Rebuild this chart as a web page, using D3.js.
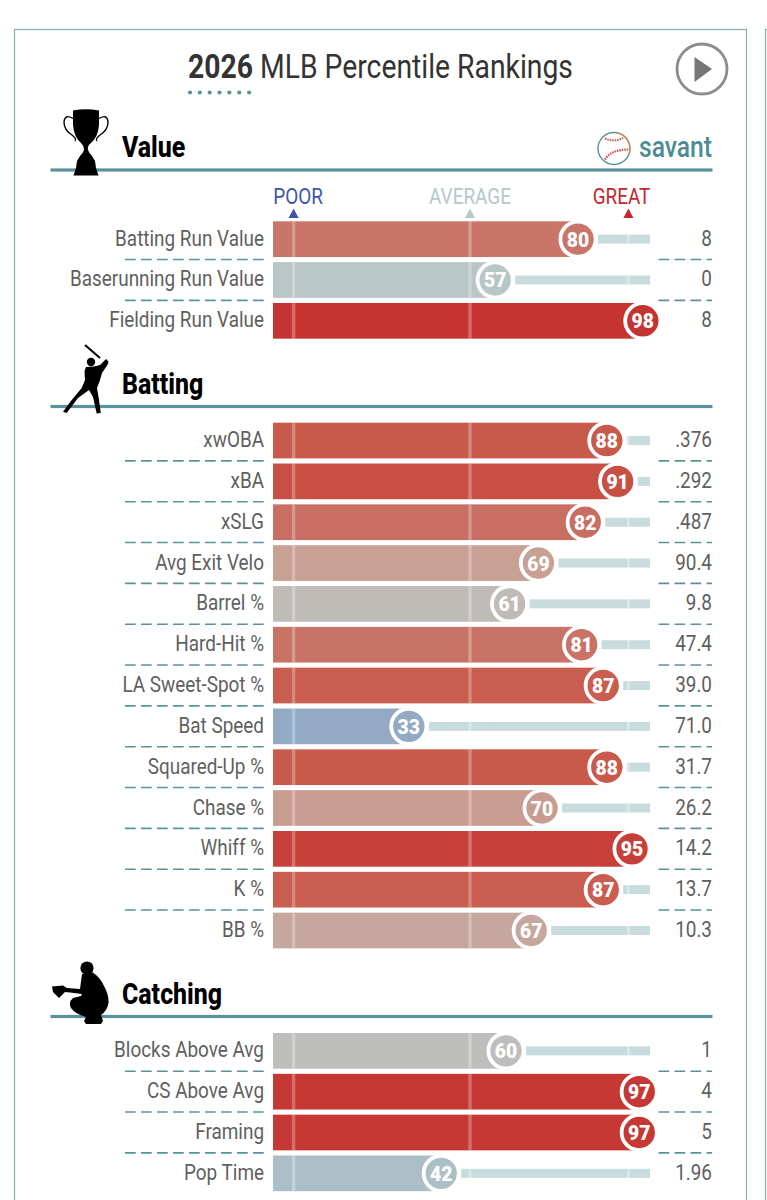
<!DOCTYPE html>
<html>
<head>
<meta charset="utf-8">
<script src="https://cdn.jsdelivr.net/npm/d3@7"></script>
<style>
  body { margin: 0; background: #fff; }
  svg { display: block; }
  text { font-family: Roboto, sans-serif; }
</style>
</head>
<body>
<div id="chart"></div>
<script>
// data
const valueLabels = ["Batting Run Value", "Baserunning Run Value", "Fielding Run Value"]
const valuePct = [80, 57, 98]
const valueStats = ["8", "0", "8"]

const battingLabels = ["xwOBA", "xBA", "xSLG", "Avg Exit Velo", "Barrel %", "Hard-Hit %", "LA Sweet-Spot %", "Bat Speed", "Squared-Up %", "Chase %", "Whiff %", "K %", "BB %"]
const battingPct = [88, 91, 82, 69, 61, 81, 87, 33, 88, 70, 95, 87, 67]
const battingStats = [".376", ".292", ".487", "90.4", "9.8", "47.4", "39.0", "71.0", "31.7", "26.2", "14.2", "13.7", "10.3"]

const catchingLabels = ["Blocks Above Avg", "CS Above Avg", "Framing", "Pop Time"]
const catchingPct = [60, 97, 97, 42]
const catchingStats = ["1", "4", "5", "1.96"]

const scaleNames = ["POOR", "AVERAGE", "GREAT"]
const scalePct = [1, 50, 94]
const scaleColors = ["#3d55a8", "#b5c8ca", "#c4272e"]

// ----------------------------------------------------------
const width = 767
const height = 1200
const teal = "#5a929b"
const barLeft = 273
const labelRight = 264
const statRight = 712
const rowStep = 40.83
const barHeight = 35.7
const trackGap = 20
const narrow = 0.86

const svg = d3.select("div#chart").append("svg").attr("width", width).attr("height", height)

const x = d3.scaleLinear().domain([0, 100]).range([290, 650])
const color = d3.scaleLinear()
    .domain([33, 42, 50, 57, 61, 69, 80, 88, 98])
    .range(["#94a9c4", "#acbfc9", "#b8c6c8", "#b9c6c6", "#bfbcb8", "#c8a094", "#c9756a", "#c85a4c", "#c63431"])

// squeezed Roboto stands in for the condensed face
function squeeze(sel, px, py, k = narrow) {
    return sel.attr("transform", `translate(${px},${py}) scale(${k},1)`)
}

//Panels:
svg.append("rect").attr("x", 14.5).attr("y", 29.5).attr("width", 732).attr("height", 1300)
    .attr("fill", "none").attr("stroke", "#86adb2").attr("stroke-width", 1.2)
svg.append("rect").attr("x", 765.5).attr("y", 29.5).attr("width", 100).attr("height", 1300)
    .attr("fill", "none").attr("stroke", "#86adb2").attr("stroke-width", 1.2)

//Title:
const title = svg.append("text").attr("font-size", 33).attr("fill", "#333")
squeeze(title, 188, 78, 0.858)
title.append("tspan").attr("font-weight", 700).text("2026")
title.append("tspan").text(" MLB Percentile Rankings")

svg.append("g").selectAll("circle").data(d3.range(7)).enter().append("circle")
    .attr("cx", d => 190 + d * 9.85).attr("cy", 92.5).attr("r", 2.1).attr("fill", teal)

//Play button:
const play = svg.append("g")
play.append("circle").attr("cx", 702).attr("cy", 69).attr("r", 25)
    .attr("fill", "#fff").attr("stroke", "#8c8c8c").attr("stroke-width", 2.8)
play.append("path").attr("d", "M694.5 57 L712 69 L694.5 82 Z").attr("fill", "#777")

//Silhouettes:
const trophy = "M73 110.5 Q86 108 99 110.5 L99 125 Q98 137 91 143 Q87 146 88 150 Q89 153 92 156 L95 161 L96 168 L98.5 175.5 L73.5 175.5 L76 168 L77 161 L80 156 Q84 152 84 149 Q84 146 81 143 Q74 137 73 125 Z"
const trophyHandles = "M74 119 Q65 113 64 122 Q64 130 72 135 Q77 139 75 141 M98 119 Q107 113 108 122 Q108 130 100 135 Q95 139 97 141"
const batter = "M86 367 L94 366.5 L100 365 L106 359 L108.5 361.5 L108 364 L102 373 L100 380 L97 388 L99 400 L100.8 413 L96.7 413.5 L93 397 L89 390 L78 398 L66.7 413 L63 411.7 L71.7 400 L81.7 388 L85 380 L84.5 371 Z"
const catcher = "M82 974 L92 972 Q100 977 104 986 Q109 995 108.5 1003 Q107 1011 101 1015 L103 1021 L101 1024 L86 1024 L84 1021 L86 1017 Q75 1014 71 1008 Q68 1002 73 998 L81 996 L82 994 L70 992.5 L65 992 L59 998 L53 992 L52 986.5 L63 985.5 L67 988 L80 989 Z"

function icons() {
    const g = svg.append("g").attr("fill", "#000")
    g.append("path").attr("d", trophy)
    g.append("path").attr("d", trophyHandles).attr("fill", "none").attr("stroke", "#000").attr("stroke-width", 1.4)
    g.append("path").attr("d", batter)
    g.append("circle").attr("cx", 91).attr("cy", 362).attr("r", 4.2)
    g.append("path").attr("d", "M85 345 L100 358").attr("stroke", "#000").attr("stroke-width", 2)
    g.append("path").attr("d", catcher)
    g.append("circle").attr("cx", 87).attr("cy", 968).attr("r", 6.6)
}

//Sections:
function section(name, labels, pct, stats, lineY, barTop) {
    const y = d3.scaleBand().domain(labels)
        .range([barTop - (rowStep - barHeight) / 2, barTop - (rowStep - barHeight) / 2 + rowStep * labels.length])
        .paddingInner((rowStep - barHeight) / rowStep)
        .paddingOuter((rowStep - barHeight) / rowStep / 2)

    svg.append("rect").attr("x", 50.5).attr("y", lineY - 1.6).attr("width", 662).attr("height", 3.2).attr("fill", teal)
    squeeze(svg.append("text").text(name).attr("font-size", 29).attr("font-weight", 800).attr("fill", "#000"), 122, lineY - 13, 0.86)

    const rows = svg.append("g").selectAll("g").data(labels).enter().append("g")
    const mid = d => y(d) + y.bandwidth() / 2
    const val = i => pct[i]

    // dashed separators
    const dashed = labels.slice(0, -1)
    svg.append("g").selectAll("line").data(dashed).enter().append("line")
        .attr("x1", 125).attr("x2", labelRight + 0.5)
        .attr("y1", d => y(d) + y.bandwidth() + 2.5).attr("y2", d => y(d) + y.bandwidth() + 2.5)
        .attr("stroke", teal).attr("stroke-width", 1.6).attr("stroke-dasharray", "10.7 5.3")
    svg.append("g").selectAll("line").data(dashed).enter().append("line")
        .attr("x1", 658.5).attr("x2", statRight)
        .attr("y1", d => y(d) + y.bandwidth() + 2.5).attr("y2", d => y(d) + y.bandwidth() + 2.5)
        .attr("stroke", teal).attr("stroke-width", 1.6).attr("stroke-dasharray", "10.7 5.3")

    // track behind the circle
    rows.append("rect")
        .attr("x", (d, i) => x(val(i)) + trackGap).attr("y", d => mid(d) - 4.5)
        .attr("width", (d, i) => Math.max(0, x(100) - x(val(i)) - trackGap)).attr("height", 9)
        .attr("fill", "#c9dcdd")

    // bar
    rows.append("rect")
        .attr("x", barLeft).attr("y", d => y(d))
        .attr("width", (d, i) => x(val(i)) - barLeft).attr("height", y.bandwidth())
        .attr("fill", (d, i) => color(val(i)))

    // reference ticks
    scalePct.forEach(p => {
        if (p < 90) rows.append("rect")
            .attr("x", x(p) - 1.7).attr("y", d => y(d)).attr("width", 3.4).attr("height", y.bandwidth())
            .attr("fill", "#fff").attr("opacity", 0.28)
            .attr("display", (d, i) => p < val(i) ? null : "none")
        rows.append("rect")
            .attr("x", x(p) - 1.3).attr("y", d => mid(d) - 4.5).attr("width", 2.6).attr("height", 9)
            .attr("fill", "#fff").attr("opacity", 0.35)
            .attr("display", (d, i) => x(p) > x(val(i)) + trackGap ? null : "none")
    })

    // percentile circles
    rows.append("circle")
        .attr("cx", (d, i) => x(val(i))).attr("cy", mid).attr("r", 17.6)
        .attr("fill", (d, i) => color(val(i))).attr("stroke", "#fff").attr("stroke-width", 3.8)
    rows.append("text").text((d, i) => val(i))
        .attr("text-anchor", "middle").attr("fill", "#fff").attr("font-size", 21).attr("font-weight", 900)
        .each(function(d, i) { squeeze(d3.select(this), x(val(i)), mid(d) + 7.5, 0.92) })

    // labels and stat values
    rows.append("text").text(d => d)
        .attr("text-anchor", "end").attr("fill", "#5f5f5f").attr("font-size", 22)
        .each(function(d) { squeeze(d3.select(this), labelRight, mid(d) + 6.5) })
    rows.append("text").text((d, i) => stats[i])
        .attr("text-anchor", "end").attr("fill", "#5f5f5f").attr("font-size", 22)
        .each(function(d) { squeeze(d3.select(this), statRight, mid(d) + 6.5) })
}

section("Value", valueLabels, valuePct, valueStats, 170, 221.3)
section("Batting", battingLabels, battingPct, battingStats, 406.5, 422.7)
section("Catching", catchingLabels, catchingPct, catchingStats, 1016.5, 1033)
icons()

//Scale key:
scaleNames.forEach((name, i) => {
    const px = x(scalePct[i])
    svg.append("path").attr("d", `M${px - 5} 218 L${px} 208.5 L${px + 5} 218 Z`).attr("fill", scaleColors[i])
})
const keyX = [298, 470, 621.5]
scaleNames.forEach((name, i) => {
    squeeze(svg.append("text").text(name).attr("text-anchor", "middle").attr("font-size", 22).attr("fill", scaleColors[i]), keyX[i], 204)
})

//Savant logo:
const logo = svg.append("g").attr("transform", "translate(614,148.5)")
logo.append("circle").attr("r", 16).attr("fill", "#fff").attr("stroke", "#5a929b").attr("stroke-width", 1.4)
logo.append("path").attr("d", d3.arc()({innerRadius: 15.4, outerRadius: 16.6, startAngle: 0.1, endAngle: 1.9})).attr("fill", "#dc8a45")
logo.append("path").attr("d", "M-9 -10 Q0 -6 9 -10.5").attr("fill", "none").attr("stroke", "#d2504a").attr("stroke-width", 2).attr("stroke-dasharray", "1.5 1")
logo.append("path").attr("d", "M-9 11 Q-3 1 15 1").attr("fill", "none").attr("stroke", "#d2504a").attr("stroke-width", 2.2).attr("stroke-dasharray", "1.5 1")
squeeze(svg.append("text").text("savant").attr("text-anchor", "end").attr("font-size", 29).attr("font-weight", 500).attr("fill", "#4d8c94"), statRight, 157, 0.85)
</script>
</body>
</html>
